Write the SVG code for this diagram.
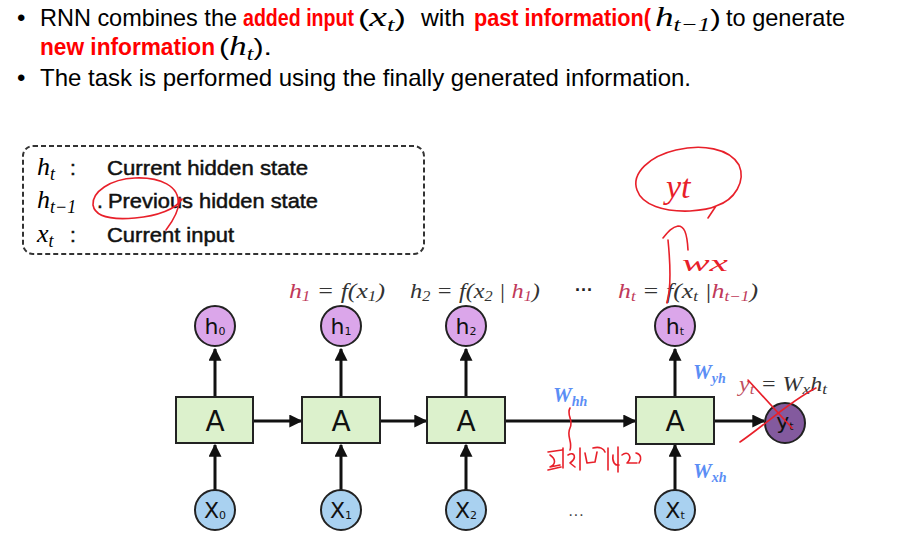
<svg xmlns="http://www.w3.org/2000/svg" width="902" height="537" viewBox="0 0 902 537">
<defs>
<style>
.bt{font-family:"Liberation Sans",Arial,sans-serif;font-size:24px;fill:#000}
.rb{font-family:"Liberation Sans",Arial,sans-serif;font-size:24px;font-weight:bold;fill:#ff0000}
.m{font-family:"Liberation Serif","Times New Roman",serif;font-style:italic;fill:#000}
.lg{font-family:"Liberation Sans",Arial,sans-serif;font-size:21px;fill:#111;stroke:#111;stroke-width:0.5}
.fm{font-family:"Liberation Serif","Times New Roman",serif;font-style:italic;font-size:21px;fill:#333}
.fr{fill:#c0395a}
.cell{fill:#dcf1cc;stroke:#222;stroke-width:2}
.hc{fill:#dba6ea;stroke:#222;stroke-width:2}
.xc{fill:#a9d1f0;stroke:#222;stroke-width:2}
.yc{fill:#835a9e;stroke:#222;stroke-width:2}
.A{font-family:"DejaVu Sans",sans-serif;font-size:28px;fill:#111;text-anchor:middle}
.cl{font-family:"DejaVu Sans",sans-serif;font-size:22px;fill:#111;text-anchor:middle}
.ar{stroke:#111;stroke-width:3;fill:none}
.w{font-family:"Liberation Serif","Times New Roman",serif;font-style:italic;font-weight:bold;font-size:21px;fill:#5b8ef5}
.red{stroke:#e8202a;stroke-width:1.6;fill:none;stroke-linecap:round;stroke-linejoin:round}
.rt{font-family:"Liberation Serif","Times New Roman",serif;font-style:italic;fill:#e8202a}
</style>
<marker id="ah" viewBox="0 0 10 10" refX="9" refY="5" markerWidth="13" markerHeight="13" markerUnits="userSpaceOnUse" orient="auto">
<path d="M0,0 L10,5 L0,10 z" fill="#111"/>
</marker>
</defs>
<rect width="902" height="537" fill="#fff"/>

<g id="bullets">
<text class="bt" x="17" y="26">•</text>
<text class="bt" x="40" y="26" textLength="197" lengthAdjust="spacingAndGlyphs">RNN combines the</text>
<text class="rb" x="243" y="26" textLength="111" lengthAdjust="spacingAndGlyphs">added input</text>
<text class="bt" x="358" y="26" font-size="26" textLength="48" lengthAdjust="spacingAndGlyphs">(<tspan class="m" font-size="28">x</tspan><tspan class="m" font-size="19" dy="5">t</tspan><tspan dy="-5">)</tspan></text>
<text class="bt" x="421" y="26" textLength="44" lengthAdjust="spacingAndGlyphs">with</text>
<text class="rb" x="474" y="26" textLength="177" lengthAdjust="spacingAndGlyphs">past information(</text>
<text class="bt" x="655" y="26" font-size="26" textLength="66" lengthAdjust="spacingAndGlyphs"><tspan class="m" font-size="28">h</tspan><tspan class="m" font-size="19" dy="5">t−1</tspan><tspan dy="-5">)</tspan></text>
<text class="bt" x="726" y="26" textLength="119" lengthAdjust="spacingAndGlyphs">to generate</text>
<text class="rb" x="40" y="55" textLength="175" lengthAdjust="spacingAndGlyphs">new information</text>
<text class="bt" x="219" y="55" font-size="26" textLength="53" lengthAdjust="spacingAndGlyphs">(<tspan class="m" font-size="28">h</tspan><tspan class="m" font-size="19" dy="5">t</tspan><tspan dy="-5">).</tspan></text>
<text class="bt" x="17" y="86">•</text>
<text class="bt" x="40" y="86" textLength="651" lengthAdjust="spacingAndGlyphs">The task is performed using the finally generated information.</text>
</g>

<g id="legend">
<rect x="23" y="146" width="401" height="108" rx="10" fill="none" stroke="#333" stroke-width="2" stroke-dasharray="5 3"/>
<text class="m" x="37" y="175" font-size="26">h<tspan font-size="18" dy="5">t</tspan></text>
<text class="lg" x="70" y="175">:</text>
<text class="lg" x="107" y="175" textLength="201" lengthAdjust="spacingAndGlyphs">Current hidden state</text>
<text class="m" x="37" y="208" font-size="26">h<tspan font-size="18" dy="5">t−1</tspan></text>
<text class="lg" x="97" y="208">.</text>
<text class="lg" x="108" y="208" textLength="210" lengthAdjust="spacingAndGlyphs">Previous hidden state</text>
<text class="m" x="37" y="242" font-size="26">x<tspan font-size="18" dy="5">t</tspan></text>
<text class="lg" x="70" y="242">:</text>
<text class="lg" x="107" y="242" textLength="127" lengthAdjust="spacingAndGlyphs">Current input</text>
</g>

<g id="formulas">
<text class="fm" x="289" y="298" textLength="96" lengthAdjust="spacingAndGlyphs"><tspan class="fr">h</tspan><tspan class="fr" font-size="14" dy="3">1</tspan><tspan dy="-3"> = f(x</tspan><tspan font-size="14" dy="3">1</tspan><tspan dy="-3">)</tspan></text>
<text class="fm" x="410" y="298" textLength="130" lengthAdjust="spacingAndGlyphs">h<tspan font-size="14" dy="3">2</tspan><tspan dy="-3"> = f(x</tspan><tspan font-size="14" dy="3">2</tspan><tspan dy="-3"> | </tspan><tspan class="fr">h</tspan><tspan class="fr" font-size="14" dy="3">1</tspan><tspan dy="-3">)</tspan></text>
<text x="575" y="296" font-family="Liberation Sans,sans-serif" font-size="18" font-weight="bold" fill="#222">···</text>
<text class="fm" x="618" y="298" textLength="140" lengthAdjust="spacingAndGlyphs"><tspan class="fr">h</tspan><tspan class="fr" font-size="14" dy="3">t</tspan><tspan dy="-3"> = f(x</tspan><tspan font-size="14" dy="3">t</tspan><tspan dy="-3"> |</tspan><tspan class="fr">h</tspan><tspan class="fr" font-size="14" dy="3">t−1</tspan><tspan dy="-3">)</tspan></text>
</g>

<g id="connectors">
<line class="ar" x1="215" y1="397" x2="215" y2="349" marker-end="url(#ah)"/>
<line class="ar" x1="341" y1="397" x2="341" y2="349" marker-end="url(#ah)"/>
<line class="ar" x1="466" y1="397" x2="466" y2="349" marker-end="url(#ah)"/>
<line class="ar" x1="675" y1="397" x2="675" y2="349" marker-end="url(#ah)"/>
<line class="ar" x1="215" y1="490" x2="215" y2="445" marker-end="url(#ah)"/>
<line class="ar" x1="341" y1="490" x2="341" y2="445" marker-end="url(#ah)"/>
<line class="ar" x1="466" y1="490" x2="466" y2="445" marker-end="url(#ah)"/>
<line class="ar" x1="675" y1="490" x2="675" y2="445" marker-end="url(#ah)"/>
<line class="ar" x1="253" y1="421" x2="301" y2="421" marker-end="url(#ah)"/>
<line class="ar" x1="380" y1="421" x2="426" y2="421" marker-end="url(#ah)"/>
<line class="ar" x1="505" y1="421" x2="635" y2="421" marker-end="url(#ah)"/>
<line class="ar" x1="714" y1="421" x2="764" y2="421" marker-end="url(#ah)"/>
</g>

<g id="cell0"><rect class="cell" x="176" y="397" width="77" height="46"/><text class="A" x="215" y="431">A</text></g>
<g id="cell1"><rect class="cell" x="302" y="397" width="78" height="46"/><text class="A" x="341" y="431">A</text></g>
<g id="cell2"><rect class="cell" x="427" y="397" width="78" height="46"/><text class="A" x="466" y="431">A</text></g>
<g id="cellt"><rect class="cell" x="636" y="397" width="78" height="47"/><text class="A" x="675" y="431">A</text></g>

<g id="h0"><circle class="hc" cx="215" cy="326" r="20"/><text class="cl" x="215" y="334">h<tspan font-size="11" dy="1">0</tspan></text></g>
<g id="h1"><circle class="hc" cx="341" cy="326" r="20"/><text class="cl" x="341" y="334">h<tspan font-size="11" dy="1">1</tspan></text></g>
<g id="h2"><circle class="hc" cx="466" cy="326" r="20"/><text class="cl" x="466" y="334">h<tspan font-size="11" dy="1">2</tspan></text></g>
<g id="ht"><circle class="hc" cx="675" cy="326" r="20"/><text class="cl" x="675" y="334">h<tspan font-size="11" dy="1">t</tspan></text></g>

<g id="x0"><circle class="xc" cx="215" cy="510" r="20"/><text class="cl" x="215" y="518">X<tspan font-size="11" dy="1">0</tspan></text></g>
<g id="x1"><circle class="xc" cx="341" cy="510" r="20"/><text class="cl" x="341" y="518">X<tspan font-size="11" dy="1">1</tspan></text></g>
<g id="x2"><circle class="xc" cx="466" cy="510" r="20"/><text class="cl" x="466" y="518">X<tspan font-size="11" dy="1">2</tspan></text></g>
<g id="xt"><circle class="xc" cx="675" cy="510" r="20"/><text class="cl" x="675" y="518">X<tspan font-size="11" dy="1">t</tspan></text></g>

<g id="yt"><circle class="yc" cx="785" cy="423" r="20"/><text class="cl" x="785" y="429" font-size="20">y<tspan font-size="11" dy="1">t</tspan></text></g>

<text x="568" y="520" font-family="Liberation Sans,sans-serif" font-size="16" fill="#444">···</text>

<g id="weights">
<text class="w" x="553" y="402">W<tspan font-size="14" dy="4">hh</tspan></text>
<text class="w" x="693" y="379">W<tspan font-size="14" dy="4">yh</tspan></text>
<text class="w" x="693" y="478">W<tspan font-size="14" dy="4">xh</tspan></text>
<text class="fm" x="739" y="391" font-size="22" fill="#555" textLength="88" lengthAdjust="spacingAndGlyphs"><tspan fill="#c0505f">y</tspan><tspan fill="#c0505f" font-size="15" dy="3">t</tspan><tspan dy="-3"> = W</tspan><tspan font-size="15" dy="3">x</tspan><tspan dy="-3">h</tspan><tspan font-size="15" dy="3">t</tspan></text>
</g>

<g id="annotations">
<path class="red" d="M178,204 C180,186 160,177 135,178 C110,179 92,192 93,205 C95,217 112,220 135,218 C158,216 176,209 182,199 M180,198 C179,211 173,221 166,230"/>
<path class="red" d="M716,206 C735,200 746,181 739,165 C729,148 702,144 676,150 C650,156 631,173 637,190 C642,205 664,212 690,211 C704,210 712,208 716,206 L708,218"/>
<text class="rt" x="666" y="198" font-size="34">yt</text>
<path class="red" d="M663,238 C668,232 672,227 678,226 C684,226 687,232 688,250 M668,240 C670,260 672,285 667,303"/>
<text class="rt" x="682" y="271" font-size="24" textLength="46" lengthAdjust="spacingAndGlyphs">wx</text>
<path class="red" d="M748,380 L792,428 M740,442 C765,425 790,401 816,388"/>
<path class="red" d="M570,408 C566,415 574,420 570,428 C566,436 573,442 570,450"/>
<path class="red" d="M548,452 L562,450 M550,455 C556,459 556,464 550,467 L560,465 M563,448 L563,468 M548,470 L561,467 M568,455 C575,451 577,458 570,463 L575,467 M580,448 L580,470 M585,453 L587,463 L595,462 L597,452 M593,448 C600,446 604,449 605,452 M608,448 L608,470 M613,455 C612,462 615,466 619,465 M618,447 L618,472 M622,455 C628,450 633,457 627,463 L637,463 M636,453 C641,454 642,459 639,463"/>
</g>
</svg>
